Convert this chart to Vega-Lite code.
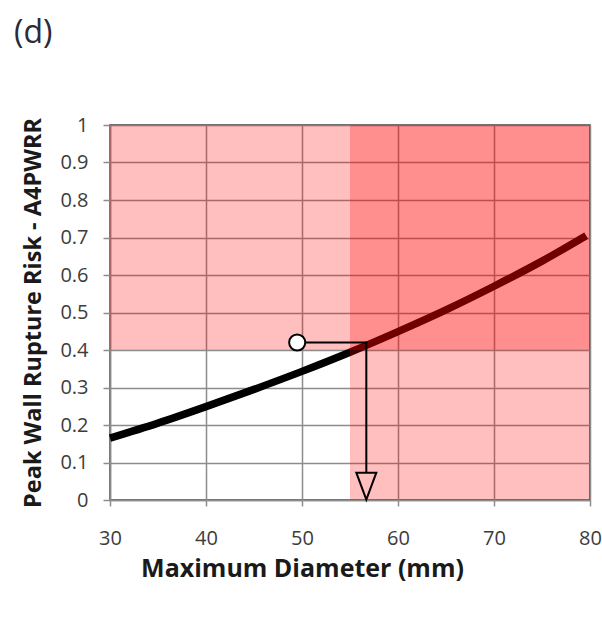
{
  "$schema": "https://vega.github.io/schema/vega-lite/v6.json",
  "width": 480,
  "height": 375,
  "autosize": {"type": "none"},
  "padding": {"top": 125, "left": 110, "right": 12, "bottom": 122},
  "background": "#ffffff",
  "title": {"text": "(d)", "anchor": "start", "frame": "group", "dx": -96, "offset": 65, "fontSize": 32, "font": "Open Sans", "fontWeight": "normal", "color": "#2a2a38"},
  "config": {
    "view": {"stroke": "#3a3a3a", "strokeWidth": 1.5},
    "axis": {"labelFont": "Open Sans", "titleFont": "Open Sans", "labelColor": "#3c3c3c", "titleColor": "#1a1a1a", "gridColor": "#8c8c8c", "gridWidth": 1.5, "domainColor": "#8c8c8c", "domainWidth": 1.5, "tickColor": "#8c8c8c", "tickWidth": 1.5, "labelOverlap": false, "labelFlush": false}
  },
  "datasets": {
    "curve": [
      {"d": 30, "r": 0.165}, {"d": 35, "r": 0.205}, {"d": 40, "r": 0.249}, {"d": 45, "r": 0.295},
      {"d": 50, "r": 0.343}, {"d": 55, "r": 0.394}, {"d": 60, "r": 0.449}, {"d": 65, "r": 0.507},
      {"d": 70, "r": 0.570}, {"d": 75, "r": 0.637}, {"d": 79.6, "r": 0.705}
    ],
    "zones": [
      {"x1": 55, "x2": 80, "y1": 0, "y2": 1},
      {"x1": 30, "x2": 80, "y1": 0.4, "y2": 1}
    ],
    "guide": [
      {"d": 49.5, "r": 0.42, "k": 1},
      {"d": 56.7, "r": 0.42, "k": 2},
      {"d": 56.7, "r": 0.073, "k": 3}
    ],
    "marker": [{"d": 49.5, "r": 0.42}],
    "arrow": [{"d": 56.7, "r": 0.037}]
  },
  "encoding": {
    "x": {"field": "d", "type": "quantitative", "scale": {"domain": [30, 80], "nice": false},
      "axis": {"values": [30, 40, 50, 60, 70, 80], "tickCount": 20, "title": "Maximum Diameter (mm)", "titleFontSize": 25, "titleFontWeight": "bold", "titleX": 192, "titleY": 76, "titleAlign": "center", "titleBaseline": "alphabetic", "labelFontSize": 20, "labelBaseline": "alphabetic", "labelPadding": 38, "tickSize": 6, "grid": true, "labelOverlap": false}},
    "y": {"field": "r", "type": "quantitative", "scale": {"domain": [0, 1], "nice": false},
      "axis": {"values": [0, 0.1, 0.2, 0.3, 0.4, 0.5, 0.6, 0.7, 0.8, 0.9, 1], "tickCount": 20, "format": "~g", "title": "Peak Wall Rupture Risk - A4PWRR", "titleFontSize": 23.5, "titleFontWeight": "bold", "titleX": -70, "titleY": 187.5, "titleAlign": "center", "titleBaseline": "alphabetic", "titleAngle": -90, "labelFontSize": 20, "labelPadding": 15, "tickSize": 7, "grid": true, "labelOverlap": false}}
  },
  "layer": [
    {
      "data": {"name": "curve"},
      "mark": {"type": "line", "color": "#000000", "strokeWidth": 7.5, "interpolate": "monotone", "strokeCap": "butt"}
    },
    {
      "data": {"name": "zones"},
      "mark": {"type": "rect", "color": "#ff0000", "opacity": 0.25},
      "encoding": {
        "x": {"field": "x1", "type": "quantitative"},
        "x2": {"field": "x2"},
        "y": {"field": "y1", "type": "quantitative"},
        "y2": {"field": "y2"}
      }
    },
    {
      "data": {"name": "guide"},
      "mark": {"type": "line", "color": "#000000", "strokeWidth": 2},
      "encoding": {
        "order": {"field": "k"}
      }
    },
    {
      "data": {"name": "marker"},
      "mark": {"type": "point", "shape": "circle", "size": 260, "filled": true, "fill": "#ffffff", "stroke": "#000000", "strokeWidth": 2, "opacity": 1}
    },
    {
      "data": {"name": "arrow"},
      "mark": {"type": "point", "shape": "M-1,-1.35L1,-1.35L0,1.35Z", "size": 400, "filled": false, "fill": null, "stroke": "#000000", "strokeWidth": 2, "opacity": 1}
    }
  ]
}
